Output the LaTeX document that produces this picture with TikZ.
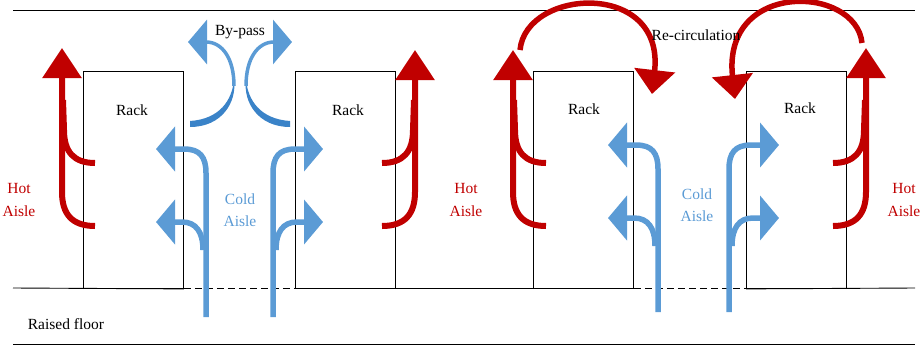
\documentclass[tikz,border=0pt]{standalone}
\usepackage{fontspec}
\setmainfont{Liberation Serif}
\usetikzlibrary{arrows.meta}
\definecolor{hotred}{HTML}{C00000}
\definecolor{coldblue}{HTML}{5B9BD5}
\definecolor{darkblue}{HTML}{3A83C8}
\tikzset{
  hot/.style={draw=hotred, line width=6pt},
  hottip/.style={-{Triangle[width=38pt,length=30pt]}},
  recirc/.style={draw=hotred, line width=5.5pt, -{Triangle[width=40pt,length=24pt]}},
  cold/.style={draw=coldblue, line width=5.5pt},
  coldtip/.style={-{Triangle[width=44pt,length=19pt]}},
  rackbox/.style={draw=black, line width=0.9pt, minimum width=100pt, minimum height=217pt, inner sep=0pt, anchor=north west},
  lbl/.style={font=\fontsize{15.5}{22.5}\selectfont, align=center, inner sep=0pt},
  hotlbl/.style={lbl, text=hotred},
  coldlbl/.style={lbl, text=coldblue},
  floorline/.style={draw=black, line width=0.9pt},
  floordash/.style={draw=black, line width=0.9pt, dash pattern=on 7pt off 4pt},
}
\newcommand\hotflow[3]{% #1 shaft x, #2 tip y, #3 direction of branches
  \draw[hot] ({#1+(#3)*33},163) .. controls ({#1+(#3)*12},163) and ({#1+(#3)*2},152) .. ({#1+(#3)*2},130) -- ({#1+(#3)*1},100);
  \draw[hot,hottip] ({#1+(#3)*33},226) .. controls ({#1+(#3)*10},226) and (#1,214) .. (#1,192) -- (#1,#2);
}
\newcommand\coldflow[5]{% #1 shaft x, #2 upper y, #3 lower y, #4 direction, #5 bottom y
  \draw[cold,coldtip] (#1,#5) -- (#1,{#2+24}) .. controls (#1,{#2+8}) and ({#1+(#4)*6},#2) .. ({#1+(#4)*22},#2) -- ({#1+(#4)*50},#2);
  \draw[cold,coldtip] ({#1+(#4)*3},{#3+28}) .. controls ({#1+(#4)*3},{#3+10}) and ({#1+(#4)*10},#3) .. ({#1+(#4)*24},#3) -- ({#1+(#4)*50},#3);
}
\begin{document}
\begin{tikzpicture}[x=1pt,y=-1pt]
\useasboundingbox (0,0) rectangle (921,349);
% horizontal lines
\coordinate (tl) at (13,10);
\coordinate (tr) at (915,10);
\coordinate (bl) at (13,344);
\coordinate (br) at (915,344);
\coordinate (fl) at (13,288);
\coordinate (fr) at (915,288);
\draw[floorline] (tl) -- (tr);
\draw[floorline] (bl) -- (br);
% racks
\node[rackbox] (r1) at (83,71) {};
\node[rackbox] (r2) at (295,71) {};
\node[rackbox] (r3) at (533,71) {};
\node[rackbox] (r4) at (746,71) {};
\node[lbl] (t1) at (132,110) {Rack};
\node[lbl] (t2) at (348,110) {Rack};
\node[lbl] (t3) at (584,109) {Rack};
\node[lbl] (t4) at (800,108) {Rack};
% floor
\draw[floorline] (fl) -- (r1.south east);
\draw[floordash] (r1.south east) -- (r2.south west);
\draw[floorline] (r2.south west) -- (r3.south east);
\draw[floordash] (r3.south east) -- (r4.south west);
\draw[floorline] (r4.south west) -- (fr);
\node[lbl] (rf) at (66,324) {Raised floor};
% hot aisle flows
\hotflow{62}{48}{1}
\hotflow{415}{50}{-1}
\hotflow{513}{50}{1}
\hotflow{866}{48}{-1}
% cold aisle flows
\coldflow{206}{149}{222}{-1}{317}
\coldflow{273}{149}{222}{1}{317}
\coldflow{658}{145}{218}{-1}{312}
\coldflow{729}{145}{218}{1}{312}
% by-pass
\fill[darkblue] (190,121) .. controls (220,119) and (232,100) .. (234,80) .. controls (237,102) and (222,127) .. (190,127) -- cycle;
\draw[cold, line width=3.5pt, coldtip] (234,86) .. controls (234,58) and (222,42) .. (206,42) -- (188,42);
\fill[darkblue] (290,121) .. controls (260,119) and (248,100) .. (246,80) .. controls (243,102) and (258,127) .. (290,127) -- cycle;
\draw[cold, line width=3.5pt, coldtip] (246,86) .. controls (246,58) and (258,42) .. (274,42) -- (292,42);
% re-circulation
\draw[recirc] (520,50) .. controls (526,-12) and (665,-20) .. (652,94);
\draw[recirc] (862,43) .. controls (856,-15) and (722,-20) .. (735,99);
% labels
\node[lbl] (bp) at (240,32) {By-pass};
\node[lbl] (rc) at (696,35) {Re-circulation};
\node[hotlbl] (h1) at (19,200) {Hot\\Aisle};
\node[hotlbl] (h2) at (466,200) {Hot\\Aisle};
\node[hotlbl] (h3) at (904,200) {Hot\\Aisle};
\node[coldlbl] (c1) at (240,210) {Cold\\Aisle};
\node[coldlbl] (c2) at (697,205) {Cold\\Aisle};
\end{tikzpicture}
\end{document}
